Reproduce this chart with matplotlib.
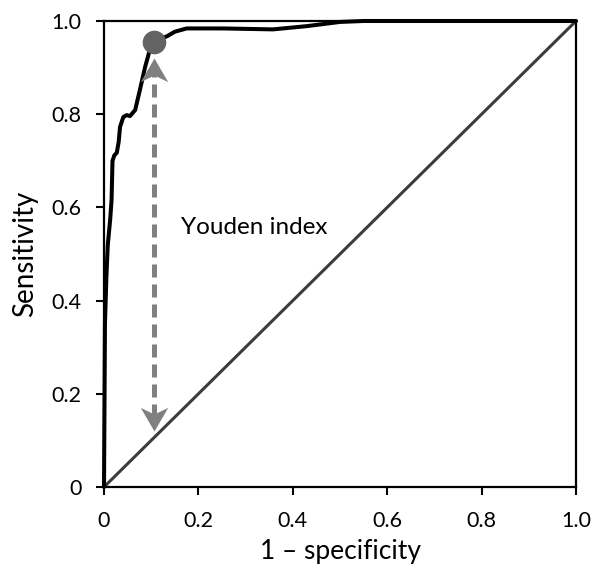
import matplotlib
matplotlib.use("Agg")
import matplotlib.pyplot as plt
from matplotlib.path import Path

plt.rcParams['font.family'] = ['Lato', 'DejaVu Sans']

# ROC curve
fpr = [0.0, 0.002, 0.005, 0.008, 0.013, 0.016, 0.018, 0.022, 0.027, 0.031, 0.034,
       0.041, 0.048, 0.055, 0.066, 0.076, 0.087, 0.097, 0.106, 0.12, 0.133,
       0.15, 0.175, 0.253, 0.358, 0.43, 0.5, 0.55, 0.7, 1.0]
tpr = [0.0, 0.35, 0.45, 0.52, 0.573, 0.616, 0.70, 0.712, 0.717, 0.74, 0.773,
       0.794, 0.798, 0.796, 0.809, 0.852, 0.901, 0.938, 0.953, 0.962, 0.967,
       0.977, 0.984, 0.984, 0.982, 0.989, 0.998, 1.0, 1.0, 1.0]
chance = [0.0, 1.0]
best_point = (0.105, 0.955)
arrow_top = 0.92
arrow_bottom = 0.12
ticks = [0, 0.2, 0.4, 0.6, 0.8, 1.0]
tick_labels = ["0", "0.2", "0.4", "0.6", "0.8", "1.0"]

fig = plt.figure(figsize=(5.92, 5.69), dpi=100)
ax = fig.add_axes([0.1757, 0.1441, 0.7973, 0.819])

ax.plot(chance, chance, color="#3c3c3c", lw=2.2, zorder=2)
ax.plot(fpr, tpr, color="black", lw=2.9, zorder=3, clip_on=False,
        solid_joinstyle="round", solid_capstyle="round")

# Youden index arrow: dashed shaft + two notched heads
grey = "#808080"
up_head = Path([(0, 0), (0.58, -1), (0, -0.72), (-0.58, -1), (0, 0)],
               [Path.MOVETO, Path.LINETO, Path.LINETO, Path.LINETO, Path.CLOSEPOLY])
down_head = Path([(0, 0), (0.58, 1), (0, 0.72), (-0.58, 1), (0, 0)],
                 [Path.MOVETO, Path.LINETO, Path.LINETO, Path.LINETO, Path.CLOSEPOLY])
ax.plot([best_point[0]] * 2, [arrow_bottom + 0.03, arrow_top - 0.03],
        color=grey, lw=3.6, dashes=(2.6, 1.4), zorder=4)
ax.plot(best_point[0], arrow_top, marker=up_head, ms=34, color=grey,
        mew=0, zorder=4)
ax.plot(best_point[0], arrow_bottom, marker=down_head, ms=34, color=grey,
        mew=0, zorder=4)
ax.plot(*best_point, "o", ms=16, color="#636363", zorder=5, clip_on=False)
ax.text(0.163, 0.556, "Youden index", fontsize=17.5, va="center", ha="left")

ax.set_xlim(0, 1)
ax.set_ylim(0, 1)
ax.set_xticks(ticks)
ax.set_xticklabels(tick_labels)
ax.set_yticks(ticks)
ax.set_yticklabels(tick_labels)
ax.tick_params(labelsize=15.5, width=1.5, length=6)
ax.tick_params(axis="x", pad=11)
ax.tick_params(axis="y", pad=10)
for s in ax.spines.values():
    s.set_linewidth(1.6)
ax.set_xlabel("1 – specificity", fontsize=19, labelpad=6)
ax.set_ylabel("Sensitivity", fontsize=20, labelpad=10)

fig.savefig("out.png", dpi=100)
